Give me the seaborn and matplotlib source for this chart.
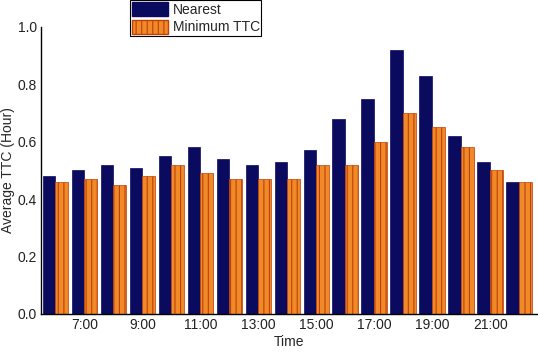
import matplotlib
matplotlib.use("Agg")
import matplotlib.pyplot as plt
import seaborn as sns
import pandas as pd

hours = ["6:00", "7:00", "8:00", "9:00", "10:00", "11:00", "12:00", "13:00", "14:00",
         "15:00", "16:00", "17:00", "18:00", "19:00", "20:00", "21:00", "22:00"]
nearest = [0.48, 0.50, 0.52, 0.51, 0.55, 0.58, 0.54, 0.52, 0.53, 0.57, 0.68, 0.75, 0.92, 0.83, 0.62, 0.53, 0.46]
min_ttc = [0.46, 0.47, 0.45, 0.48, 0.52, 0.49, 0.47, 0.47, 0.47, 0.52, 0.52, 0.60, 0.70, 0.65, 0.58, 0.50, 0.46]
series_names = ["Nearest", "Minimum TTC"]
tick_labels = ["7:00", "9:00", "11:00", "13:00", "15:00", "17:00", "19:00", "21:00"]

df = pd.DataFrame({
    "Time": hours * 2,
    "TTC": nearest + min_ttc,
    "Series": [series_names[0]] * len(hours) + [series_names[1]] * len(hours),
})

sns.set_style("white")
plt.rcParams["font.family"] = ["Liberation Sans", "DejaVu Sans"]
plt.rcParams["hatch.linewidth"] = 0.8

fig = plt.figure(figsize=(5.38, 3.54), dpi=100)
ax = fig.add_axes([0.076, 0.113, 0.924, 0.811])

sns.barplot(data=df, x="Time", y="TTC", hue="Series", order=hours, hue_order=series_names,
            palette=["#0a0a5e", "#f08a28"], width=0.88, saturation=1, ax=ax, legend=False)

n = len(hours)
for i, p in enumerate(ax.patches[:2 * n]):
    if i < n:
        p.set_edgecolor("#0a0a5e")
        p.set_linewidth(0.5)
    else:
        p.set_facecolor("#f08a28")
        p.set_edgecolor("#c0400a")
        p.set_hatch("|||")
        p.set_linewidth(0.5)

from matplotlib.patches import Patch
handles = [Patch(facecolor="#0a0a5e", edgecolor="#0a0a5e"),
           Patch(facecolor="#f08a28", edgecolor="#c0400a", hatch="|||")]
leg = fig.legend(handles, series_names, loc="lower left",
                 bbox_to_anchor=(130 / 538, 1 - 36 / 354), fontsize=10,
                 frameon=True, fancybox=False, edgecolor="black", framealpha=1,
                 handlelength=2.6, handleheight=1.2, borderpad=0.12, labelspacing=0.2,
                 handletextpad=0.35, borderaxespad=0)
leg.get_frame().set_linewidth(0.8)

ax.set_ylim(0, 1.0)
ax.set_xlim(-0.5, n - 0.35)
ax.set_yticks([0, 0.2, 0.4, 0.6, 0.8, 1.0])
ax.set_yticklabels(["0.0", "0.2", "0.4", "0.6", "0.8", "1.0"])
ax.set_xticks([hours.index(t) for t in tick_labels])
ax.set_xticklabels(tick_labels)
ax.tick_params(axis="both", length=0, labelsize=10, pad=3, colors="#222222")
ax.set_xlabel("Time", fontsize=10, labelpad=2)
ax.set_ylabel("Average TTC (Hour)", fontsize=10, labelpad=2)
for s in ["top", "right"]:
    ax.spines[s].set_visible(False)
for s in ["left", "bottom"]:
    ax.spines[s].set_color("black")
    ax.spines[s].set_linewidth(1.0)

fig.savefig("out.png", dpi=100)
